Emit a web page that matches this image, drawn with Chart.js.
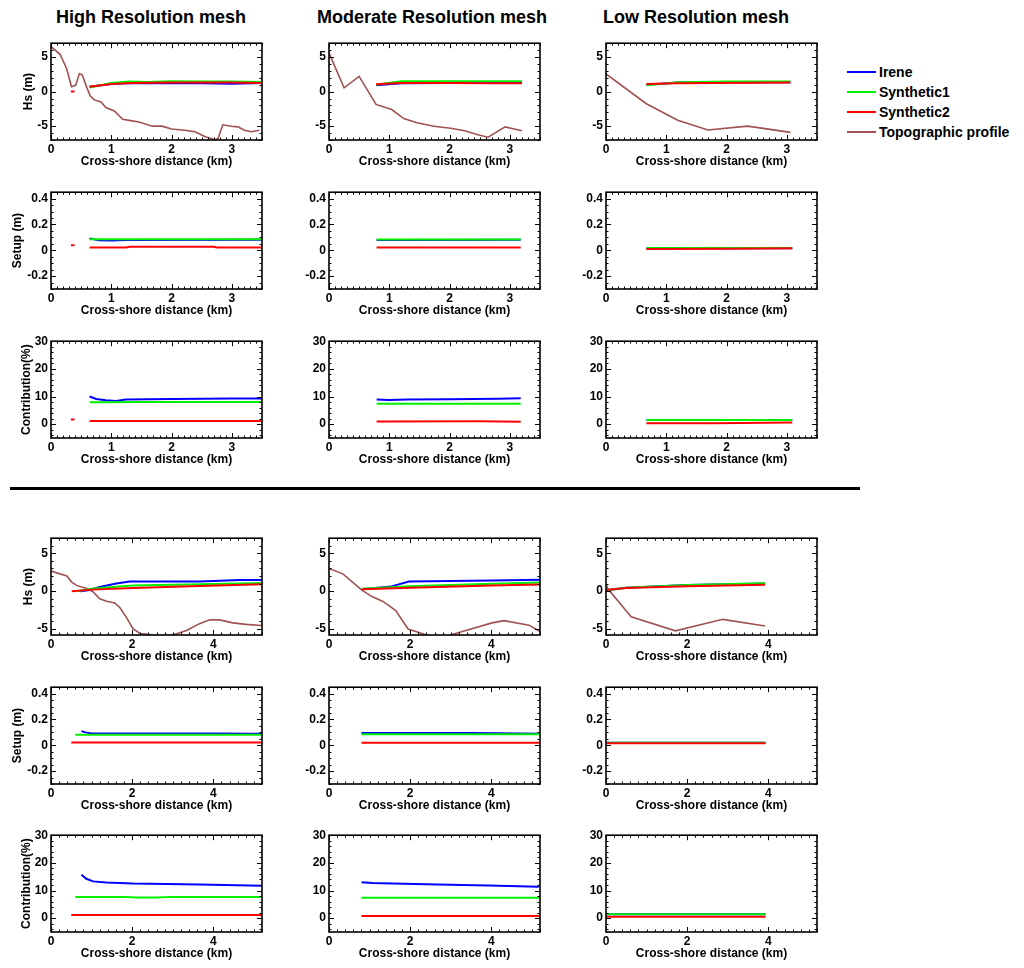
<!DOCTYPE html>
<html>
<head>
<meta charset="utf-8">
<script src="https://cdn.jsdelivr.net/npm/chart.js@4.4.1/dist/chart.umd.min.js"></script>
<style>
  body { margin: 0; background: #fff; width: 1024px; height: 968px; position: relative; overflow: hidden;
         font-family: "Liberation Sans", Arial, sans-serif; font-weight: bold; color: #000; }
  canvas { position: absolute; }
  .coltitle { position: absolute; top: 7px; font-size: 18px; line-height: 20px; white-space: nowrap; transform: translateX(-50%); }
  .sep { position: absolute; left: 10px; top: 487px; width: 850px; height: 3px; background: #000; }
  .leg { position: absolute; left: 847px; font-size: 14px; line-height: 16px; white-space: nowrap; }
  .leg span { display: inline-block; width: 29px; height: 2px; vertical-align: middle; margin-right: 3px; position: relative; top: -1px; }
</style>
</head>
<body>
<div id="root"></div>
<script>
// ---- labels ----
const colTitles = ['High Resolution mesh', 'Moderate Resolution mesh', 'Low Resolution mesh'];
const seriesNames = ['Irene', 'Synthetic1', 'Synthetic2', 'Topographic profile'];
const seriesColors = ['#0000ff', '#00f000', '#ff0000', '#a05252'];
const yTitles = ['Hs (m)', 'Setup (m)', 'Contribution(%)'];
const xTitle = 'Cross-shore distance (km)';

// ---- tick values / labels ----
const xTicksSite1 = [0, 1, 2, 3];
const xTickLabelsSite1 = ['0', '1', '2', '3'];
const xTicksSite2 = [0, 2, 4];
const xTickLabelsSite2 = ['0', '2', '4'];
const hsTicks = [-5, 0, 5];
const hsTickLabels = ['-5', '0', '5'];
const setupTicks = [-0.2, 0, 0.2, 0.4];
const setupTickLabels = ['-0.2', '0', '0.2', '0.4'];
const contribTicks = [0, 10, 20, 30];
const contribTickLabels = ['0', '10', '20', '30'];

// ---- site 1 (upper block), [km, value] ----
const s1HsHighIrene = [[0.64,0.7],[1.0,1.1],[1.3,1.25],[2.0,1.2],[2.5,1.2],[3.0,1.15],[3.5,1.25]];
const s1HsHighSyn1 = [[0.64,0.6],[1.0,1.25],[1.3,1.45],[1.6,1.4],[2.0,1.5],[2.5,1.45],[3.0,1.45],[3.5,1.4]];
const s1HsHighSyn2 = [[0.33,0.0],[0.39,0.0],[0.5,null],[0.64,0.7],[1.0,1.1],[1.35,1.25],[2.0,1.3],[3.0,1.3],[3.5,1.25]];
const s1HsHighTopo = [[0,6.5],[0.15,5.4],[0.26,3.3],[0.34,0.7],[0.41,0.9],[0.47,2.6],[0.52,2.4],[0.58,0.9],[0.65,-0.6],
  [0.72,-1.2],[0.83,-1.5],[0.91,-2.3],[1.05,-2.8],[1.19,-4.0],[1.32,-4.2],[1.46,-4.4],[1.68,-5.0],[1.84,-5.0],[2.0,-5.4],
  [2.22,-5.6],[2.39,-5.8],[2.55,-6.5],[2.72,-6.95],[2.77,-6.8],[2.85,-4.8],[2.99,-5.0],[3.1,-5.1],[3.21,-5.6],[3.32,-5.8],[3.46,-5.6]];

const s1HsModIrene = [[0.78,0.9],[1.2,1.2],[2.0,1.25],[2.7,1.4],[3.2,1.3]];
const s1HsModSyn1 = [[0.78,1.0],[1.2,1.5],[2.0,1.5],[3.2,1.5]];
const s1HsModSyn2 = [[0.78,1.05],[1.2,1.25],[2.0,1.25],[2.7,1.2],[3.2,1.2]];
const s1HsModTopo = [[0,5.6],[0.25,0.55],[0.5,2.2],[0.78,-1.85],[1.04,-2.6],[1.24,-3.9],[1.46,-4.5],[1.74,-5.0],
  [2.02,-5.3],[2.25,-5.65],[2.47,-6.25],[2.64,-6.6],[2.92,-5.1],[3.2,-5.65]];

const s1HsLowIrene = [[0.67,1.0],[1.2,1.3],[3.06,1.35]];
const s1HsLowSyn1 = [[0.67,0.9],[1.2,1.35],[2.0,1.45],[3.06,1.45]];
const s1HsLowSyn2 = [[0.67,1.1],[1.2,1.2],[3.06,1.3]];
const s1HsLowTopo = [[0,2.55],[0.67,-1.75],[1.19,-4.15],[1.69,-5.55],[2.35,-5.0],[3.06,-5.9]];

const s1SetupHighIrene = [[0.64,0.092],[0.8,0.077],[1.02,0.075],[1.24,0.08],[3.5,0.082]];
const s1SetupHighSyn1 = [[0.64,0.085],[3.5,0.085]];
const s1SetupHighSyn2 = [[0.33,0.039],[0.39,0.039],[0.5,null],[0.64,0.022],[1.25,0.022],[1.3,0.028],[2.7,0.028],[2.75,0.022],[3.5,0.022]];

const s1SetupModIrene = [[0.79,0.08],[1.22,0.08],[3.18,0.082]];
const s1SetupModSyn1 = [[0.79,0.083],[3.18,0.083]];
const s1SetupModSyn2 = [[0.79,0.022],[3.18,0.022]];

const s1SetupLowIrene = [[0.67,0.015],[3.09,0.015]];
const s1SetupLowSyn1 = [[0.67,0.017],[3.09,0.017]];
const s1SetupLowSyn2 = [[0.67,0.01],[2.0,0.012],[3.09,0.015]];

const s1ContribHighIrene = [[0.64,10.0],[0.75,9.1],[0.91,8.65],[1.08,8.4],[1.24,8.9],[2.0,9.1],[3.0,9.3],[3.5,9.3]];
const s1ContribHighSyn1 = [[0.64,7.9],[1.5,8.0],[3.5,8.0]];
const s1ContribHighSyn2 = [[0.33,1.7],[0.39,1.7],[0.5,null],[0.64,1.15],[3.5,1.15]];

const s1ContribModIrene = [[0.79,8.9],[1.0,8.7],[1.3,8.9],[2.0,9.0],[2.8,9.2],[3.18,9.35]];
const s1ContribModSyn1 = [[0.79,7.4],[3.18,7.4]];
const s1ContribModSyn2 = [[0.79,1.0],[2.5,1.05],[3.18,0.9]];

const s1ContribLowIrene = [[0.67,1.5],[3.09,1.5]];
const s1ContribLowSyn1 = [[0.67,1.5],[3.09,1.5]];
const s1ContribLowSyn2 = [[0.67,0.35],[1.8,0.35],[3.09,0.6]];

// ---- site 2 (lower block) ----
const s2HsHighIrene = [[0.71,0.0],[0.92,0.13],[1.2,0.55],[1.61,1.0],[1.94,1.27],[2.84,1.27],[3.66,1.27],[4.65,1.48],[5.2,1.48]];
const s2HsHighSyn1 = [[0.63,0.0],[1.04,0.34],[2.02,0.76],[3.66,0.9],[5.2,1.06]];
const s2HsHighSyn2 = [[0.51,0.0],[1.0,0.2],[2.02,0.42],[3.66,0.68],[5.2,0.9]];
const s2HsHighTopo = [[0,2.65],[0.39,2.0],[0.51,1.2],[0.63,0.76],[0.88,0.34],[1.04,-0.1],[1.2,-1.0],[1.37,-1.35],
  [1.57,-1.57],[1.7,-2.2],[1.86,-3.5],[2.02,-4.95],[2.19,-5.6],[2.39,-5.7],[2.6,-5.9],[3.0,-5.8],[3.34,-5.2],
  [3.66,-4.3],[3.91,-3.8],[4.16,-3.8],[4.48,-4.2],[4.81,-4.4],[5.2,-4.55]];

const s2HsModIrene = [[0.81,0.25],[1.52,0.6],[1.97,1.27],[4.02,1.4],[5.25,1.52]];
const s2HsModSyn1 = [[0.81,0.3],[1.97,0.64],[4.02,0.97],[5.25,1.15]];
const s2HsModSyn2 = [[0.81,0.25],[2.0,0.45],[4.0,0.75],[5.25,0.9]];
const s2HsModTopo = [[0,3.0],[0.35,2.25],[0.81,0.13],[1.06,-0.72],[1.33,-1.36],[1.64,-2.54],[1.95,-5.0],[2.35,-5.7],
  [2.52,-5.9],[2.93,-5.9],[3.35,-5.25],[4.02,-4.2],[4.31,-3.9],[4.93,-4.5],[5.25,-5.5]];

const s2HsLowIrene = [[0,0.1],[0.5,0.45],[2.0,0.8],[3.92,1.0]];
const s2HsLowSyn1 = [[0,0.1],[0.5,0.45],[2.0,0.8],[3.92,1.05]];
const s2HsLowSyn2 = [[0,0.15],[0.5,0.4],[2.0,0.65],[3.92,0.85]];
const s2HsLowTopo = [[0,0.97],[0.04,0.34],[0.62,-3.4],[1.71,-5.25],[2.88,-3.73],[3.92,-4.6]];

const s2SetupHighIrene = [[0.75,0.11],[0.85,0.1],[1.0,0.092],[4.0,0.092],[5.2,0.09]];
const s2SetupHighSyn1 = [[0.6,0.082],[5.2,0.082]];
const s2SetupHighSyn2 = [[0.5,0.022],[5.2,0.022]];

const s2SetupModIrene = [[0.8,0.095],[3.5,0.095],[5.2,0.09]];
const s2SetupModSyn1 = [[0.8,0.085],[5.2,0.085]];
const s2SetupModSyn2 = [[0.8,0.02],[5.2,0.02]];

const s2SetupLowIrene = [[0,0.02],[3.93,0.02]];
const s2SetupLowSyn1 = [[0,0.02],[3.93,0.02]];
const s2SetupLowSyn2 = [[0,0.015],[3.93,0.015]];

const s2ContribHighIrene = [[0.75,15.7],[0.87,14.25],[1.04,13.3],[1.36,12.9],[2.02,12.5],[3.65,12.2],[5.2,11.7]];
const s2ContribHighSyn1 = [[0.6,7.7],[1.8,7.7],[2.1,7.5],[2.6,7.5],[3.0,7.7],[5.2,7.7]];
const s2ContribHighSyn2 = [[0.5,1.15],[5.2,1.15]];

const s2ContribModIrene = [[0.8,13.0],[1.07,12.7],[1.57,12.5],[2.67,12.2],[3.94,11.8],[5.17,11.4]];
const s2ContribModSyn1 = [[0.8,7.4],[5.2,7.4]];
const s2ContribModSyn2 = [[0.8,0.8],[5.2,0.8]];

const s2ContribLowIrene = [[0,1.4],[3.93,1.4]];
const s2ContribLowSyn1 = [[0,1.4],[3.93,1.4]];
const s2ContribLowSyn2 = [[0,0.5],[3.93,0.5]];

// ---- layout ----
const plotLefts = [51, 329, 606];
const plotTops = [39, 188, 337, 534, 683, 831];
const plotW = 211, plotH = 101;
const padL = 51, padT = 6, padR = 8, padB = 34;
const font12 = { family: '"Liberation Sans", Arial, sans-serif', size: 12, weight: 'bold' };

// draws the box and the inward major/minor ticks on all four sides
const framePlugin = {
  id: 'frame',
  afterDatasetsDraw(chart, args, opts) {
    const { ctx, chartArea: a, scales: { x, y } } = chart;
    ctx.save();
    ctx.strokeStyle = '#000';
    ctx.lineWidth = 1;
    ctx.beginPath();
    const xMark = (v, len) => {
      const p = Math.round(x.getPixelForValue(v)) + 0.5;
      ctx.moveTo(p, a.bottom); ctx.lineTo(p, a.bottom - len);
      ctx.moveTo(p, a.top); ctx.lineTo(p, a.top + len);
    };
    const yMark = (v, len) => {
      const p = Math.round(y.getPixelForValue(v)) + 0.5;
      ctx.moveTo(a.left, p); ctx.lineTo(a.left + len, p);
      ctx.moveTo(a.right, p); ctx.lineTo(a.right - len, p);
    };
    for (let i = Math.ceil(x.min / opts.xMinor - 1e-6); i * opts.xMinor <= x.max + 1e-6; i++) xMark(i * opts.xMinor, 2.5);
    for (let i = Math.ceil(y.min / opts.yMinor - 1e-6); i * opts.yMinor <= y.max + 1e-6; i++) yMark(i * opts.yMinor, 2.5);
    x.ticks.forEach(t => xMark(t.value, 5));
    y.ticks.forEach(t => yMark(t.value, 5));
    ctx.stroke();
    ctx.lineWidth = 1.6;
    ctx.strokeRect(a.left, a.top, a.width, a.height);
    ctx.restore();
  }
};

const toPoints = pairs => pairs.map(([x, y]) => ({ x: x, y: y }));

const makeDatasets = series => series.map((pairs, i) => ({
  label: seriesNames[i],
  data: toPoints(pairs),
  borderColor: seriesColors[i],
  borderWidth: i === 3 ? 1.6 : 2,
  pointRadius: 0,
  tension: 0,
  spanGaps: false,
  order: [3, 2, 1, 4][i]
}));

const rowDefs = [
  { yTitle: 0, min: -7, max: 7, ticks: hsTicks, labels: hsTickLabels, minor: 1, titlePad: 21 },
  { yTitle: 1, min: -0.3, max: 0.45, ticks: setupTicks, labels: setupTickLabels, minor: 0.05, titlePad: 10 },
  { yTitle: 2, min: -5, max: 30, ticks: contribTicks, labels: contribTickLabels, minor: 2, titlePad: 19 },
  { yTitle: 0, min: -5.8, max: 7, ticks: hsTicks, labels: hsTickLabels, minor: 1, titlePad: 21 },
  { yTitle: 1, min: -0.3, max: 0.45, ticks: setupTicks, labels: setupTickLabels, minor: 0.05, titlePad: 10 },
  { yTitle: 2, min: -5, max: 30, ticks: contribTicks, labels: contribTickLabels, minor: 2, titlePad: 19 }
];
const siteX = [
  { max: 3.5, ticks: xTicksSite1, labels: xTickLabelsSite1, minor: 0.1 },
  { max: 5.2, ticks: xTicksSite2, labels: xTickLabelsSite2, minor: 0.2 }
];

const panelSeries = [
  [[s1HsHighIrene, s1HsHighSyn1, s1HsHighSyn2, s1HsHighTopo],
   [s1HsModIrene, s1HsModSyn1, s1HsModSyn2, s1HsModTopo],
   [s1HsLowIrene, s1HsLowSyn1, s1HsLowSyn2, s1HsLowTopo]],
  [[s1SetupHighIrene, s1SetupHighSyn1, s1SetupHighSyn2],
   [s1SetupModIrene, s1SetupModSyn1, s1SetupModSyn2],
   [s1SetupLowIrene, s1SetupLowSyn1, s1SetupLowSyn2]],
  [[s1ContribHighIrene, s1ContribHighSyn1, s1ContribHighSyn2],
   [s1ContribModIrene, s1ContribModSyn1, s1ContribModSyn2],
   [s1ContribLowIrene, s1ContribLowSyn1, s1ContribLowSyn2]],
  [[s2HsHighIrene, s2HsHighSyn1, s2HsHighSyn2, s2HsHighTopo],
   [s2HsModIrene, s2HsModSyn1, s2HsModSyn2, s2HsModTopo],
   [s2HsLowIrene, s2HsLowSyn1, s2HsLowSyn2, s2HsLowTopo]],
  [[s2SetupHighIrene, s2SetupHighSyn1, s2SetupHighSyn2],
   [s2SetupModIrene, s2SetupModSyn1, s2SetupModSyn2],
   [s2SetupLowIrene, s2SetupLowSyn1, s2SetupLowSyn2]],
  [[s2ContribHighIrene, s2ContribHighSyn1, s2ContribHighSyn2],
   [s2ContribModIrene, s2ContribModSyn1, s2ContribModSyn2],
   [s2ContribLowIrene, s2ContribLowSyn1, s2ContribLowSyn2]]
];

const root = document.getElementById('root');

const makePanel = (row, col) => {
  const rd = rowDefs[row];
  const xd = siteX[row < 3 ? 0 : 1];
  const cv = document.createElement('canvas');
  cv.width = padL + plotW + padR;
  cv.height = padT + plotH + padB;
  cv.style.left = (plotLefts[col] - padL) + 'px';
  cv.style.top = (plotTops[row] - padT) + 'px';
  root.appendChild(cv);

  new Chart(cv, {
    type: 'line',
    data: { datasets: makeDatasets(panelSeries[row][col]) },
    options: {
      responsive: false,
      animation: false,
      events: [],
      devicePixelRatio: 1,
      layout: { padding: { left: 0, top: padT, right: padR, bottom: 0 } },
      plugins: {
        legend: { display: false },
        tooltip: { enabled: false },
        frame: { xMinor: xd.minor, yMinor: rd.minor }
      },
      scales: {
        x: {
          type: 'linear', min: 0, max: xd.max,
          grid: { display: false, drawTicks: false },
          border: { display: false },
          afterBuildTicks: s => { s.ticks = xd.ticks.map(v => ({ value: v })); },
          afterFit: s => { s.height = padB; },
          ticks: { font: font12, color: '#000', padding: 2, maxRotation: 0, autoSkip: false,
                   callback: (v, i) => xd.labels[i] },
          title: { display: true, text: xTitle, font: font12, color: '#000', padding: { top: 0, bottom: 5 } }
        },
        y: {
          type: 'linear', min: rd.min, max: rd.max,
          grid: { display: false, drawTicks: false },
          border: { display: false },
          afterBuildTicks: s => { s.ticks = rd.ticks.map(v => ({ value: v })); },
          afterFit: s => { s.width = padL; },
          ticks: { font: font12, color: '#000', padding: 3, autoSkip: false,
                   callback: (v, i) => rd.labels[i] },
          title: { display: col === 0, text: yTitles[rd.yTitle], font: font12, color: '#000',
                   padding: { top: rd.titlePad, bottom: 0 } }
        }
      }
    },
    plugins: [framePlugin]
  });
};

for (let r = 0; r < 6; r++) for (let c = 0; c < 3; c++) makePanel(r, c);

// column titles
const titleCenters = [151, 432, 696];
colTitles.forEach((t, i) => {
  const d = document.createElement('div');
  d.className = 'coltitle';
  d.style.left = titleCenters[i] + 'px';
  d.textContent = t;
  root.appendChild(d);
});

// separator between the two sites
const sep = document.createElement('div');
sep.className = 'sep';
root.appendChild(sep);

// legend
const legendTops = [64, 84, 104, 124];
seriesNames.forEach((n, i) => {
  const d = document.createElement('div');
  d.className = 'leg';
  d.style.top = legendTops[i] + 'px';
  const sw = document.createElement('span');
  sw.style.background = seriesColors[i];
  d.appendChild(sw);
  d.appendChild(document.createTextNode(n));
  root.appendChild(d);
});
</script>
</body>
</html>
